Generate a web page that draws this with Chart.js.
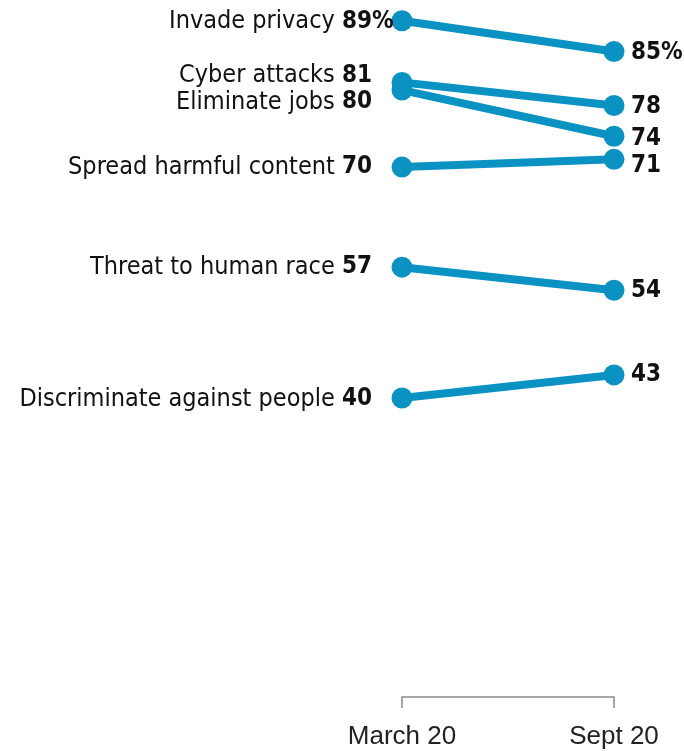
<!DOCTYPE html>
<html>
<head>
<meta charset="utf-8">
<script src="https://cdn.jsdelivr.net/npm/chart.js@4.4.0/dist/chart.umd.min.js"></script>
<style>
  html, body { margin: 0; padding: 0; background: #ffffff; }
  #wrap { width: 684px; height: 751px; position: relative; }
</style>
</head>
<body>
<div id="wrap"><canvas id="c" width="684" height="751"></canvas></div>
<script>
const categories = ['Invade privacy', 'Cyber attacks', 'Eliminate jobs', 'Spread harmful content', 'Threat to human race', 'Discriminate against people'];
const march = [89, 81, 80, 70, 57, 40];
const sept = [85, 78, 74, 71, 54, 43];
const periods = ['March 20', 'Sept 20'];

const BLUE = '#0a92c3';
const LABEL_FONT = '"DejaVu Sans Condensed", "Liberation Sans", sans-serif';
// vertical nudges (px) for the left / right labels, to avoid overlap
const leftNudge = [1, -7, 12, 0, 0, 1];
const rightNudge = [1, 1, 2, 6, 1, 0];

const datasets = categories.map((name, i) => ({
  label: name,
  data: [{ x: 0, y: march[i] }, { x: 1, y: sept[i] }],
  borderColor: BLUE,
  backgroundColor: BLUE,
  borderWidth: 8,
  pointRadius: 10.5,
  pointHoverRadius: 10.5,
  pointBorderWidth: 0,
  clip: false
}));

const labelPlugin = {
  id: 'slopeLabels',
  afterDatasetsDraw(chart) {
    const ctx = chart.ctx;
    const xs = chart.scales.x, ys = chart.scales.y;
    ctx.save();
    ctx.textBaseline = 'middle';
    ctx.fillStyle = '#111';
    const x0 = xs.getPixelForValue(0), x1 = xs.getPixelForValue(1);
    categories.forEach((name, i) => {
      const yl = ys.getPixelForValue(march[i]) + leftNudge[i];
      const anchor = x0 - 30;
      ctx.font = 'bold 24px ' + LABEL_FONT;
      ctx.textAlign = 'right';
      const v = String(march[i]);
      ctx.fillText(v, anchor, yl);
      const vw = ctx.measureText(v).width;
      if (i === 0) { ctx.textAlign = 'left'; ctx.fillText('%', anchor, yl); }
      ctx.font = '25px ' + LABEL_FONT;
      ctx.textAlign = 'right';
      ctx.fillText(name + ' ', anchor - vw, yl);
      const yr = ys.getPixelForValue(sept[i]) + rightNudge[i];
      ctx.font = 'bold 24px ' + LABEL_FONT;
      ctx.textAlign = 'left';
      ctx.fillText(String(sept[i]) + (i === 0 ? '%' : ''), x1 + 17, yr);
    });
    ctx.restore();
  }
};

const bracketPlugin = {
  id: 'bracket',
  afterDraw(chart) {
    const ctx = chart.ctx;
    const xs = chart.scales.x;
    const x0 = xs.getPixelForValue(0), x1 = xs.getPixelForValue(1);
    const yTop = chart.chartArea.bottom - 9;
    ctx.save();
    ctx.strokeStyle = '#8a8a8a';
    ctx.lineWidth = 1.5;
    ctx.beginPath();
    ctx.moveTo(x0, yTop + 11);
    ctx.lineTo(x0, yTop);
    ctx.lineTo(x1, yTop);
    ctx.lineTo(x1, yTop + 11);
    ctx.stroke();
    ctx.restore();
  }
};

new Chart(document.getElementById('c'), {
  type: 'line',
  data: { datasets },
  options: {
    responsive: false,
    animation: false,
    events: [],
    layout: { autoPadding: false, padding: { left: 402, right: 70, top: 0, bottom: 0 } },
    plugins: { legend: { display: false }, tooltip: { enabled: false } },
    scales: {
      x: {
        type: 'linear',
        min: 0,
        max: 1,
        grid: { display: false, drawTicks: false },
        border: { display: false },
        afterBuildTicks(scale) { scale.ticks = [{ value: 0 }, { value: 1 }]; },
        afterFit(scale) { scale.height = 45; },
        ticks: {
          padding: 15,
          color: '#222',
          font: { family: '"Liberation Sans", Arial, sans-serif', size: 26 },
          callback: (v) => periods[v]
        }
      },
      y: {
        display: false,
        min: 0,
        max: 91.7
      }
    }
  },
  plugins: [labelPlugin, bracketPlugin]
});
</script>
</body>
</html>
